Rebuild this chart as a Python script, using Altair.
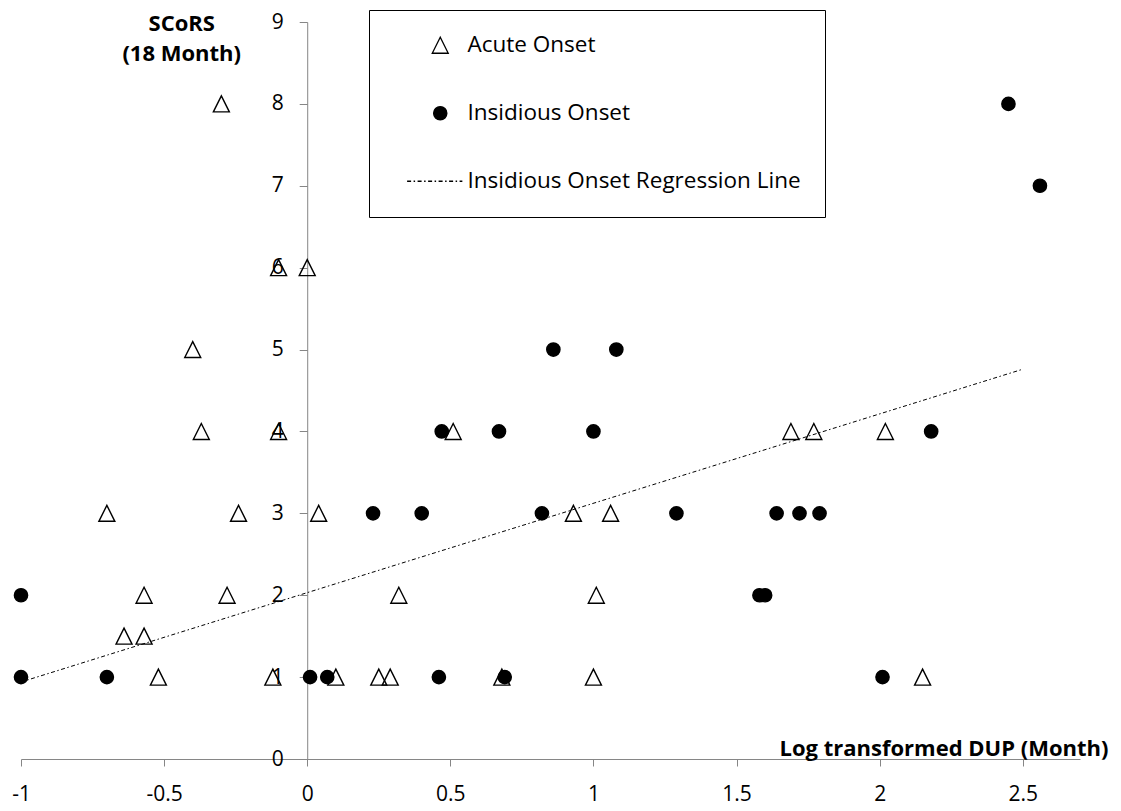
import altair as alt
import pandas as pd

# ---- data ----
series_names = ["Acute Onset", "Insidious Onset", "Insidious Onset Regression Line"]

acute_x = [-0.30, -0.10, 0.00, -0.40, -0.37, -0.10, 0.51, 1.69, 1.77, 2.02,
           -0.70, -0.24, 0.04, 0.93, 1.06,
           -0.57, -0.28, 0.32, 1.01,
           -0.64, -0.57,
           -0.52, -0.12, 0.10, 0.25, 0.29, 0.68, 1.00, 2.15]
acute_y = [8, 6, 6, 5, 4, 4, 4, 4, 4, 4,
           3, 3, 3, 3, 3,
           2, 2, 2, 2,
           1.5, 1.5,
           1, 1, 1, 1, 1, 1, 1, 1]

insid_x = [-1.00, -1.00, -0.70, 0.01, 0.07, 0.46, 0.69, 2.01,
           0.47, 0.67, 1.00, 2.18,
           0.23, 0.40, 0.82, 1.29, 1.64, 1.72, 1.79,
           1.58, 1.60,
           0.86, 1.08,
           2.45, 2.56]
insid_y = [2, 1, 1, 1, 1, 1, 1, 1,
           4, 4, 4, 4,
           3, 3, 3, 3, 3, 3, 3,
           2, 2,
           5, 5,
           8, 7]

reg_x = [-1.0, 2.50]
reg_y = [0.94, 4.76]

x_ticks = [-1, -0.5, 0, 0.5, 1, 1.5, 2, 2.5]
y_ticks = [0, 1, 2, 3, 4, 5, 6, 7, 8, 9]

# ---- styling ----
FONT = "Open Sans"
W, H = 1059, 737
X_DOMAIN = [-1, 2.7]
Y_DOMAIN = [0, 9]
AXIS_GREY = "#868686"
DASH = [4, 2.5, 1.5, 2.5]
SYM_SIZE = 289
UNIT = (SYM_SIZE ** 0.5) / 2.0  # px per custom-path unit

tri_path = "M0,-0.94L-0.94,0.94L0.94,0.94Z"
r = 0.78
circ_path = f"M{-r},0A{r},{r},0,1,0,{r},0A{r},{r},0,1,0,{-r},0Z"


def dash_path(x0, x1, pattern, unit):
    segs, pos, i = [], x0, 0
    while pos < x1:
        step = pattern[i % len(pattern)] / unit
        if i % 2 == 0:
            end = min(pos + step, x1)
            segs.append(f"M{pos:.3f},0L{end:.3f},0")
        pos += step
        i += 1
    return "".join(segs)


line_path = dash_path(-3.9, 2.6, DASH, UNIT)

pts = pd.DataFrame({
    "x": acute_x + insid_x,
    "y": acute_y + insid_y,
    "series": [series_names[0]] * len(acute_x) + [series_names[1]] * len(insid_x),
})
reg = pd.DataFrame({"x": reg_x, "y": reg_y})

x_axis = alt.Axis(
    values=x_ticks, labelExpr="datum.value + ''", grid=False,
    domainColor=AXIS_GREY, tickColor=AXIS_GREY, tickSize=7,
    labelFontSize=21, labelColor="black", labelPadding=17,
    labelFlush=False, labelOverlap=False,
    title="Log transformed DUP (Month)", titleFontSize=22, titleFontWeight="bold",
    titleColor="black", titleAlign="right", titleBaseline="alphabetic",
    titleX=1087, titleY=-4, titleAngle=0,
)
y_axis = alt.Axis(
    values=y_ticks, grid=False, offset=-(W * 1.0 / 3.7),
    domainColor=AXIS_GREY, tickColor=AXIS_GREY, tickSize=8,
    labelFontSize=21, labelColor="black", labelPadding=16,
    labelFlush=False, labelOverlap=False, labelBaseline="middle",
    title=["SCoRS", "(18 Month)"], titleFontSize=22, titleFontWeight="bold",
    titleColor="black", titleAngle=0, titleAlign="center",
    titleBaseline="alphabetic", titleX=-126, titleY=8, titleLineHeight=30,
)

x_enc = alt.X("x:Q", scale=alt.Scale(domain=X_DOMAIN, nice=False, zero=False), axis=x_axis)
y_enc = alt.Y("y:Q", scale=alt.Scale(domain=Y_DOMAIN, nice=False, zero=False), axis=y_axis)

legend = alt.Legend(
    title=None, orient="none", legendX=348, legendY=-12, direction="vertical",
    strokeColor="black", fillColor="white", padding=24,
    labelFontSize=22.5, labelColor="black", labelLimit=600, labelFont=FONT,
    symbolSize=SYM_SIZE, symbolStrokeWidth=1.3, symbolOffset=36, labelOffset=16,
    rowPadding=45,
)

points = alt.Chart(pts).mark_point(size=SYM_SIZE, strokeWidth=1.4, opacity=1).encode(
    x=x_enc,
    y=y_enc,
    shape=alt.Shape("series:N", scale=alt.Scale(domain=series_names,
                                                range=[tri_path, circ_path, line_path]),
                    legend=legend),
    fill=alt.Fill("series:N", scale=alt.Scale(domain=series_names,
                                              range=["transparent", "black", "transparent"]),
                  legend=legend),
    stroke=alt.Stroke("series:N", scale=alt.Scale(domain=series_names,
                                                  range=["black", "black", "black"]),
                      legend=legend),
)

line = alt.Chart(reg).mark_line(color="black", strokeWidth=1, strokeDash=DASH).encode(
    x=x_enc, y=y_enc,
)

chart = alt.layer(points, line).properties(
    width=W, height=H,
    autosize=alt.AutoSizeParams(type="none"),
    padding={"left": 13, "top": 14, "right": 30, "bottom": 50},
    background="white",
).configure(font=FONT).configure_view(stroke=None)

chart.save("out.html", embed_options={"renderer": "svg", "actions": False})
